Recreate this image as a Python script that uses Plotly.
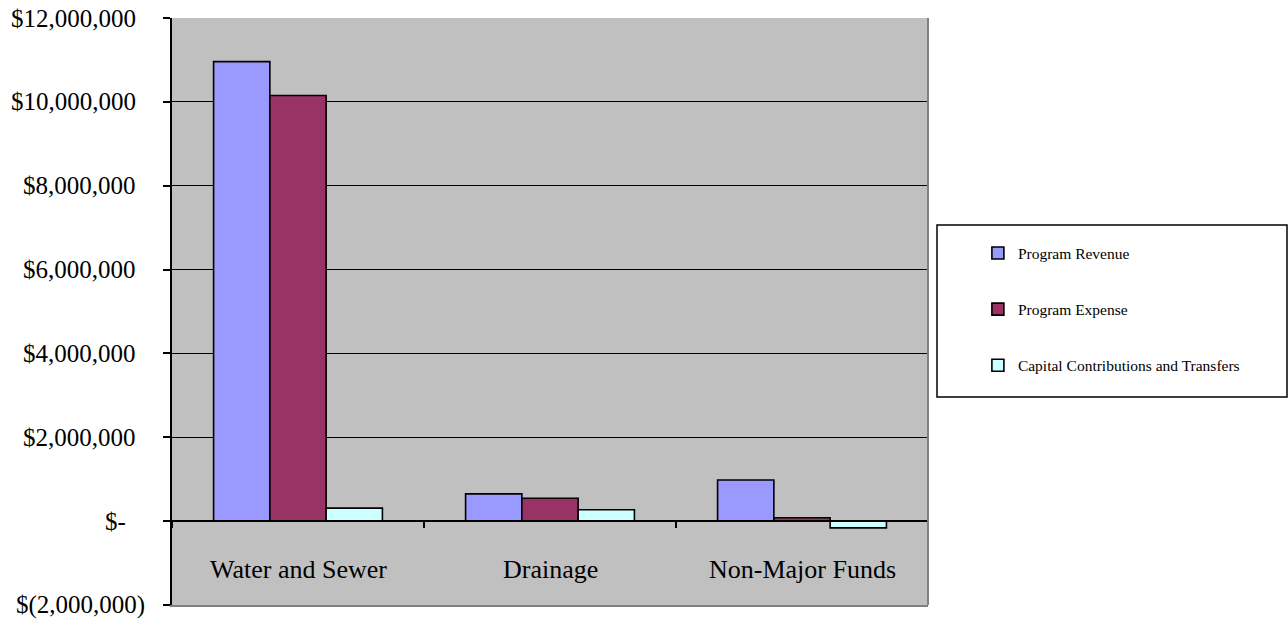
import plotly.graph_objects as go

# Fund categories and values (USD)
categories = ["Water and Sewer", "Drainage", "Non-Major Funds"]
program_revenue = [10960000, 650000, 980000]
program_expense = [10150000, 545000, 80000]
capital_contrib = [310000, 270000, -160000]

y_tick_vals = [12000000, 10000000, 8000000, 6000000, 4000000, 2000000, 0, -2000000]
y_tick_text = ["$12,000,000", "$10,000,000", "$8,000,000", "$6,000,000",
               "$4,000,000", "$2,000,000", "$-", "$(2,000,000)"]

FONT = "Liberation Serif, Times New Roman, serif"
BG = "#C0C0C0"

fig = go.Figure()
series = [
    ("Program Revenue", program_revenue, "#9999FF"),
    ("Program Expense", program_expense, "#993366"),
    ("Capital Contributions and Transfers", capital_contrib, "#CCFFFF"),
]
for name, vals, color in series:
    fig.add_trace(go.Bar(
        x=categories, y=vals, name=name, legendgroup=name,
        marker=dict(color=color, line=dict(color="black", width=1.6)),
    ))

# Invisible trace that carries the zero-level category axis
fig.add_trace(go.Scatter(x=categories, y=[None] * len(categories), xaxis="x2",
                         showlegend=False, hoverinfo="skip", mode="markers"))

ymin, ymax = -2000000, 12000000
zero_frac = (0 - ymin) / (ymax - ymin)

# Y tick labels as annotations, right-aligned like accounting format
annotations = []
for v, t in zip(y_tick_vals, y_tick_text):
    shift = 0
    if t.endswith(")"):
        shift = 9
    elif t == "$-":
        shift = -10
    annotations.append(dict(
        x=0, xref="paper", y=v, yref="y", text=t, showarrow=False,
        xanchor="right", yanchor="middle", xshift=-34 + shift,
        font=dict(family=FONT, size=25, color="black"),
    ))
for c in categories:
    annotations.append(dict(
        x=c, xref="x", y=0.061, yref="paper", text=c, showarrow=False,
        xanchor="center", yanchor="middle",
        font=dict(family=FONT, size=26, color="black"),
    ))

fig.update_layout(
    width=1288, height=620,
    margin=dict(l=172, r=360, t=18, b=15),
    paper_bgcolor="white", plot_bgcolor=BG,
    barmode="group", bargap=0.33, bargroupgap=0,
    font=dict(family=FONT, color="black"),
    xaxis=dict(type="category", categoryarray=categories, range=[-0.5, 2.5],
               showticklabels=False, showgrid=False, zeroline=False,
               showline=True, linecolor="#808080", linewidth=2, ticks=""),
    xaxis2=dict(type="category", categoryarray=categories, range=[-0.5, 2.5],
                overlaying="x", anchor="free", position=zero_frac,
                showticklabels=False, showgrid=False, zeroline=False,
                showline=True, linecolor="black", linewidth=2,
                ticks="outside", tickson="boundaries", ticklen=6,
                tickcolor="black", tickwidth=2),
    yaxis=dict(range=[ymin, ymax], tickvals=y_tick_vals, showticklabels=False,
               showgrid=True, gridcolor="black", gridwidth=1.2,
               zeroline=False, showline=True, linecolor="black", linewidth=2,
               ticks="outside", ticklen=7, tickcolor="black", tickwidth=2),
    legend=dict(x=1.066, y=0.628, xanchor="left", yanchor="top",
                bgcolor="rgba(0,0,0,0)", borderwidth=0,
                traceorder="grouped", tracegroupgap=33,
                font=dict(family=FONT, size=15.5, color="black")),
    annotations=annotations,
    shapes=[
        # legend frame
        dict(type="rect", xref="paper", yref="paper",
             x0=(937 - 172) / 756, x1=(1287 - 172) / 756,
             y0=(605 - 397) / 587, y1=(605 - 225) / 587,
             line=dict(color="black", width=1.5), fillcolor="white", layer="below"),
        # right plot border
        dict(type="line", xref="paper", yref="paper", x0=1, x1=1, y0=0, y1=1,
             line=dict(color="#808080", width=2)),
    ],
)

fig.write_html("out.html")
